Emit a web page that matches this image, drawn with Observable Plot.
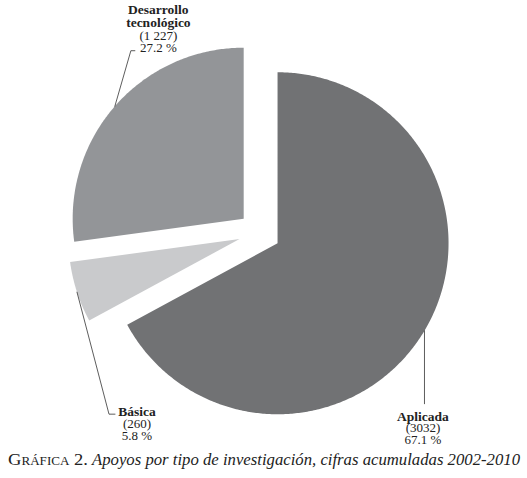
<!DOCTYPE html>
<html>
<head>
<meta charset="utf-8">
<script src="https://cdn.jsdelivr.net/npm/d3@7"></script>
<script src="https://cdn.jsdelivr.net/npm/@observablehq/plot@0.6"></script>
<style>
  html, body { margin: 0; padding: 0; background: #fff; }
  svg { display: block; }
</style>
</head>
<body>
<div id="chart"></div>
<svg id="caption" width="527" height="31" font-family="Liberation Serif, serif" font-size="17" fill="#222">
  <text x="8" y="18" textLength="80" lengthAdjust="spacingAndGlyphs" style="font-variant: small-caps">Gráfica 2.</text>
  <text x="92" y="18" textLength="428" lengthAdjust="spacingAndGlyphs" font-style="italic">Apoyos por tipo de investigación, cifras acumuladas 2002-2010</text>
</svg>
<script>
// ---- data ----
const categories = ["Aplicada", "Básica", "Desarrollo\ntecnológico"];
const counts = [3032, 260, 1227];
const countLabels = ["(3032)", "(260)", "(1 227)"];
const percentLabels = ["67.1 %", "5.8 %", "27.2 %"];
const colors = ["#717274", "#c9cacc", "#939598"];

// ---- layout (pixels) ----
const W = 527, H = 447;
const R = 171;              // radius in px
const CX = 259, CY = 232;   // pie centre in px
const EXPLODE = 21 / R;     // explode offset in radius units
const FONT = "'Liberation Serif', serif";

// convert a pixel length into data units (radius = 1, y up)
const dpx = v => v / R;

const pie = d3.pie().sort(null).value(d => d.count)
  .startAngle(0).endAngle(2 * Math.PI);
const table = categories.map((c, i) => ({
  category: c, count: counts[i], countLabel: countLabels[i],
  percent: percentLabels[i], color: colors[i]
}));
const arcs = pie(table);

// polygon points per slice
const slices = arcs.map(a => {
  const mid = (a.startAngle + a.endAngle) / 2;
  const ox = EXPLODE * Math.sin(mid), oy = EXPLODE * Math.cos(mid);
  const pts = [{x: ox, y: oy}];
  const n = Math.max(8, Math.ceil((a.endAngle - a.startAngle) / 0.01));
  for (let k = 0; k <= n; ++k) {
    const t = a.startAngle + (a.endAngle - a.startAngle) * k / n;
    pts.push({x: ox + Math.sin(t), y: oy + Math.cos(t)});
  }
  return {data: a.data, pts, mid, ox, oy};
});

// leader elbows (pixel offsets from the arc midpoint, y down) and
// first-baseline position of the text block relative to the elbow
const leaderShape = {
  "Aplicada": {elbow: [0, 73], tick: 0, text: [-1.5, 17], lh: 11.6},
  "Básica": {elbow: [32, 122], tick: 6, text: [28, 2], lh: 12},
  "Desarrollo\ntecnológico": {elbow: [16, -55.5], tick: 4, text: [27.5, -36.5], lh: 12.7}
};

const leaders = [];
const textLines = [];
slices.forEach(s => {
  const L = leaderShape[s.data.category];
  const p0 = {x: s.ox + Math.sin(s.mid), y: s.oy + Math.cos(s.mid)};
  const p1 = {x: p0.x + dpx(L.elbow[0]), y: p0.y - dpx(L.elbow[1])};
  const pts = [p0, p1];
  if (L.tick) pts.push({x: p1.x + dpx(L.tick), y: p1.y});
  pts.forEach(p => leaders.push({...p, key: s.data.category}));
  const tx = p1.x + dpx(L.text[0]);
  const ty = p1.y - dpx(L.text[1]);
  const lines = s.data.category.split("\n").map(t => ({t, bold: true}))
    .concat([{t: s.data.countLabel, bold: false}, {t: s.data.percent, bold: false}]);
  lines.forEach((ln, i) => {
    textLines.push({x: tx, y: ty - dpx(L.lh) * i, text: ln.t, bold: ln.bold});
  });
});

const plot = Plot.plot({
  width: W,
  height: H,
  margin: 0,
  x: {domain: [-CX / R, (W - CX) / R], range: [0, W], axis: null},
  y: {domain: [-(H - CY) / R, CY / R], range: [H, 0], axis: null},
  style: {background: "#fff"},
  marks: [
    ...slices.map(s => Plot.line(s.pts, {
      x: "x", y: "y", fill: s.data.color, stroke: "none", curve: "linear-closed"
    })),
    Plot.line(leaders, {x: "x", y: "y", z: "key", stroke: "#333", strokeWidth: 0.8}),
    Plot.text(textLines.filter(d => d.bold), {
      x: "x", y: "y", text: "text", lineAnchor: "bottom", textAnchor: "middle",
      fontSize: 13.5, fontWeight: "bold", fontFamily: FONT, fill: "#222"
    }),
    Plot.text(textLines.filter(d => !d.bold), {
      x: "x", y: "y", text: "text", lineAnchor: "bottom", textAnchor: "middle",
      fontSize: 13, fontFamily: FONT, fill: "#222"
    })
  ]
});
document.getElementById("chart").appendChild(plot);
</script>
</body>
</html>
